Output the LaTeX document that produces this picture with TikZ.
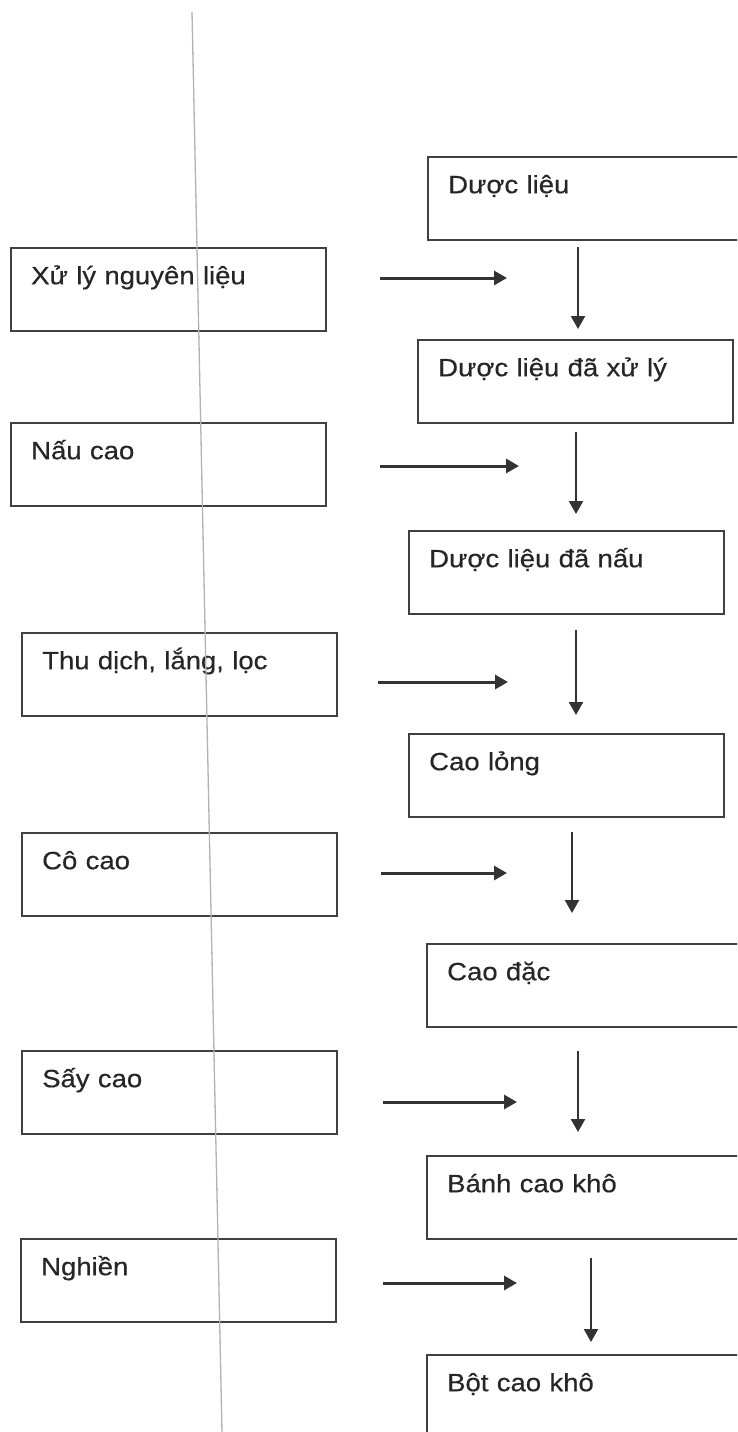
\documentclass[tikz,border=0pt]{standalone}
\usepackage{fontspec}
\setmainfont[FakeStretch=1.1,FakeBold=0.4]{Liberation Sans}
\usetikzlibrary{arrows.meta}
\begin{document}
\begin{tikzpicture}[x=1pt,y=-1pt,
  stepbox/.style={draw=black!75, line width=2.4pt, rectangle, anchor=north west,
    inner xsep=20pt, inner ysep=0pt, align=left, text width=275pt,
    text height=36pt, text depth=47pt, text=black!85,
    font=\fontsize{25}{30}\selectfont},
  harrow/.style={draw=black!80, line width=3pt, -{Triangle[length=13pt,width=14pt]}},
  varrow/.style={draw=black!80, line width=2.3pt, -{Triangle[length=13pt,width=14pt]}},
  guide/.style={draw=black!30, line width=1.3pt}]
\fill[white] (0,0) rectangle (737,1432);
\useasboundingbox (0,0) rectangle (737,1432);
\clip (0,0) rectangle (737,1432);
% left column
\node[stepbox] (l1) at (10,247) {Xử lý nguyên liệu};
\node[stepbox] (l2) at (10,422) {Nấu cao};
\node[stepbox] (l3) at (21,632) {Thu dịch, lắng, lọc};
\node[stepbox] (l4) at (21,832) {Cô cao};
\node[stepbox] (l5) at (21,1050) {Sấy cao};
\node[stepbox] (l6) at (20,1238) {Nghiền};
% right column
\node[stepbox] (r1) at (427,156) {Dược liệu};
\node[stepbox] (r2) at (417,339) {Dược liệu đã xử lý};
\node[stepbox] (r3) at (408,530) {Dược liệu đã nấu};
\node[stepbox] (r4) at (408,733) {Cao lỏng};
\node[stepbox] (r5) at (426,943) {Cao đặc};
\node[stepbox] (r6) at (426,1155) {Bánh cao khô};
\node[stepbox] (r7) at (426,1354) {Bột cao khô};
% arrow end points
\coordinate (h1a) at (380,278); \coordinate (h1b) at (507,278);
\coordinate (h2a) at (380,466); \coordinate (h2b) at (519,466);
\coordinate (h3a) at (378,682); \coordinate (h3b) at (508,682);
\coordinate (h4a) at (381,873); \coordinate (h4b) at (507,873);
\coordinate (h5a) at (383,1102); \coordinate (h5b) at (517,1102);
\coordinate (h6a) at (383,1283); \coordinate (h6b) at (517,1283);
\coordinate (v1a) at (578,247); \coordinate (v1b) at (578,329);
\coordinate (v2a) at (576,432); \coordinate (v2b) at (576,514);
\coordinate (v3a) at (576,630); \coordinate (v3b) at (576,715);
\coordinate (v4a) at (572,832); \coordinate (v4b) at (572,913);
\coordinate (v5a) at (578,1051); \coordinate (v5b) at (578,1132);
\coordinate (v6a) at (591,1258); \coordinate (v6b) at (591,1342);
\foreach \i in {1,...,6} {
  \draw[harrow] (h\i a) -- (h\i b);
  \draw[varrow] (v\i a) -- (v\i b);
}
% faint guide line
\coordinate (gtop) at (192,12);
\coordinate (gbot) at (222,1432);
\draw[guide] (gtop) -- (gbot);
\end{tikzpicture}
\end{document}
